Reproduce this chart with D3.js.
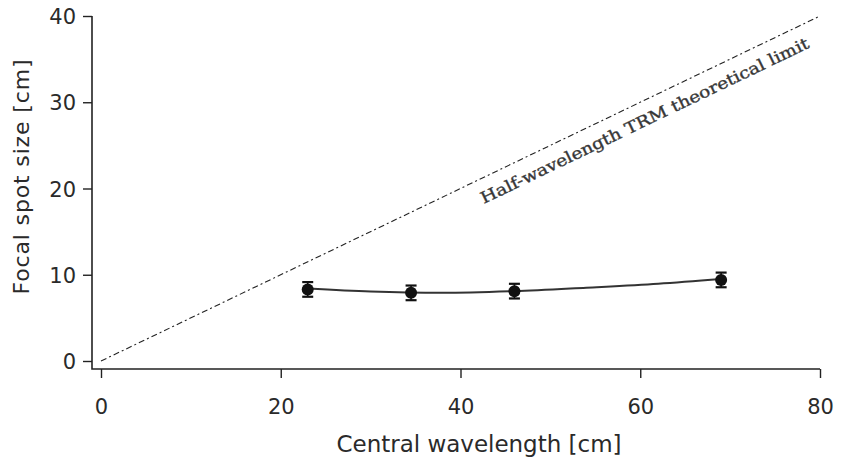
<!DOCTYPE html>
<html>
<head>
<meta charset="utf-8">
<script src="https://cdn.jsdelivr.net/npm/d3@7"></script>
<style>
  body { margin: 0; background: #fff; }
  svg text { font-family: "DejaVu Sans", Verdana, sans-serif; fill: #2a2a2a; }
</style>
</head>
<body>
<svg id="chart" width="841" height="460"></svg>
<script>
// measured points
let wavelength = [23, 34.5, 46, 69];
let spotSize = [8.3, 7.9, 8.1, 9.4];
let spotErr = [0.85, 0.85, 0.85, 0.85];

// smooth fit through the points
let fitX = [23, 30, 38, 46, 54, 62, 69];
let fitY = [8.4, 8.05, 7.9, 8.1, 8.5, 8.95, 9.5];

// half-wavelength limit endpoints
let limitX = [0, 80];
let limitY = [0, 40];

let xTicks = [0, 20, 40, 60, 80];
let yTicks = [0, 10, 20, 30, 40];

let svg = d3.select("#chart");

let x = d3.scaleLinear().domain([0, 80]).range([101, 820]);
let y = d3.scaleLinear().domain([0, 40]).range([361, 16]);

let axisX = 92, axisY = 369;

// y axis
let gy = svg.append("g")
    .attr("transform", `translate(${axisX},0)`)
    .call(d3.axisLeft(y).tickValues(yTicks).tickSize(9).tickPadding(7));
gy.select(".domain").remove();
gy.selectAll("text").style("font-size", "21px").attr("dy", "0.36em");

// x axis
let gx = svg.append("g")
    .attr("transform", `translate(0,${axisY})`)
    .call(d3.axisBottom(x).tickValues(xTicks).tickSize(9).tickPadding(21));
gx.select(".domain").remove();
gx.selectAll("text").style("font-size", "21px");

svg.selectAll(".tick line").attr("stroke", "#222").attr("stroke-width", 1.4);

// axis lines
svg.append("path")
    .attr("fill", "none")
    .attr("stroke", "#222")
    .attr("stroke-width", 1.6)
    .attr("d", `M${axisX},${y(40)} L${axisX},${axisY} L${x(80)},${axisY}`);

// axis labels
svg.append("text")
    .attr("x", 479)
    .attr("y", 452)
    .style("text-anchor", "middle")
    .style("font-size", "23px")
    .attr("textLength", 285)
    .text("Central wavelength [cm]");

svg.append("text")
    .attr("transform", "rotate(-90)")
    .attr("x", -177)
    .attr("y", 29)
    .style("text-anchor", "middle")
    .style("font-size", "22px")
    .attr("textLength", 235)
    .text("Focal spot size [cm]");

// theoretical limit line
svg.append("line")
    .attr("x1", x(limitX[0])).attr("y1", y(limitY[0]))
    .attr("x2", x(limitX[1])).attr("y2", y(limitY[1]))
    .attr("stroke", "#222")
    .attr("stroke-width", 1.1)
    .style("stroke-dasharray", "6,3,2,3");

let angle = Math.atan2(y(limitY[1]) - y(limitY[0]), x(limitX[1]) - x(limitX[0])) * 180 / Math.PI;
svg.append("text")
    .attr("transform", `translate(${x(59.6)},${y(29.8)}) rotate(${angle})`)
    .attr("dy", 24)
    .style("text-anchor", "middle")
    .style("font-family", "'DejaVu Serif', Georgia, serif")
    .style("font-size", "16px")
    .style("fill", "#333")
    .style("stroke", "#444")
    .style("stroke-width", 0.4)
    .attr("textLength", 362)
    .attr("lengthAdjust", "spacingAndGlyphs")
    .text("Half-wavelength TRM theoretical limit");

// fit curve
svg.append("path")
    .datum(fitX.map((d, i) => [d, fitY[i]]))
    .attr("fill", "none")
    .attr("stroke", "#333")
    .attr("stroke-width", 2)
    .attr("d", d3.line()
        .x(d => x(d[0]))
        .y(d => y(d[1]))
        .curve(d3.curveMonotoneX));

// error bars
let data = wavelength.map((d, i) => ({ x: d, y: spotSize[i], e: spotErr[i] }));
let eb = svg.append("g").attr("stroke", "#111").attr("stroke-width", 1.6);
data.forEach(function(d) {
    eb.append("line")
        .attr("x1", x(d.x)).attr("x2", x(d.x))
        .attr("y1", y(d.y - d.e)).attr("y2", y(d.y + d.e));
    [d.y - d.e, d.y + d.e].forEach(function(v) {
        eb.append("line")
            .attr("x1", x(d.x) - 5.5).attr("x2", x(d.x) + 5.5)
            .attr("y1", y(v)).attr("y2", y(v))
            .attr("stroke-width", 2.2);
    });
});

svg.selectAll("circle.pt")
    .data(data)
    .enter().append("circle")
    .attr("class", "pt")
    .attr("cx", d => x(d.x))
    .attr("cy", d => y(d.y))
    .attr("r", 6)
    .attr("fill", "#111");
</script>
</body>
</html>
